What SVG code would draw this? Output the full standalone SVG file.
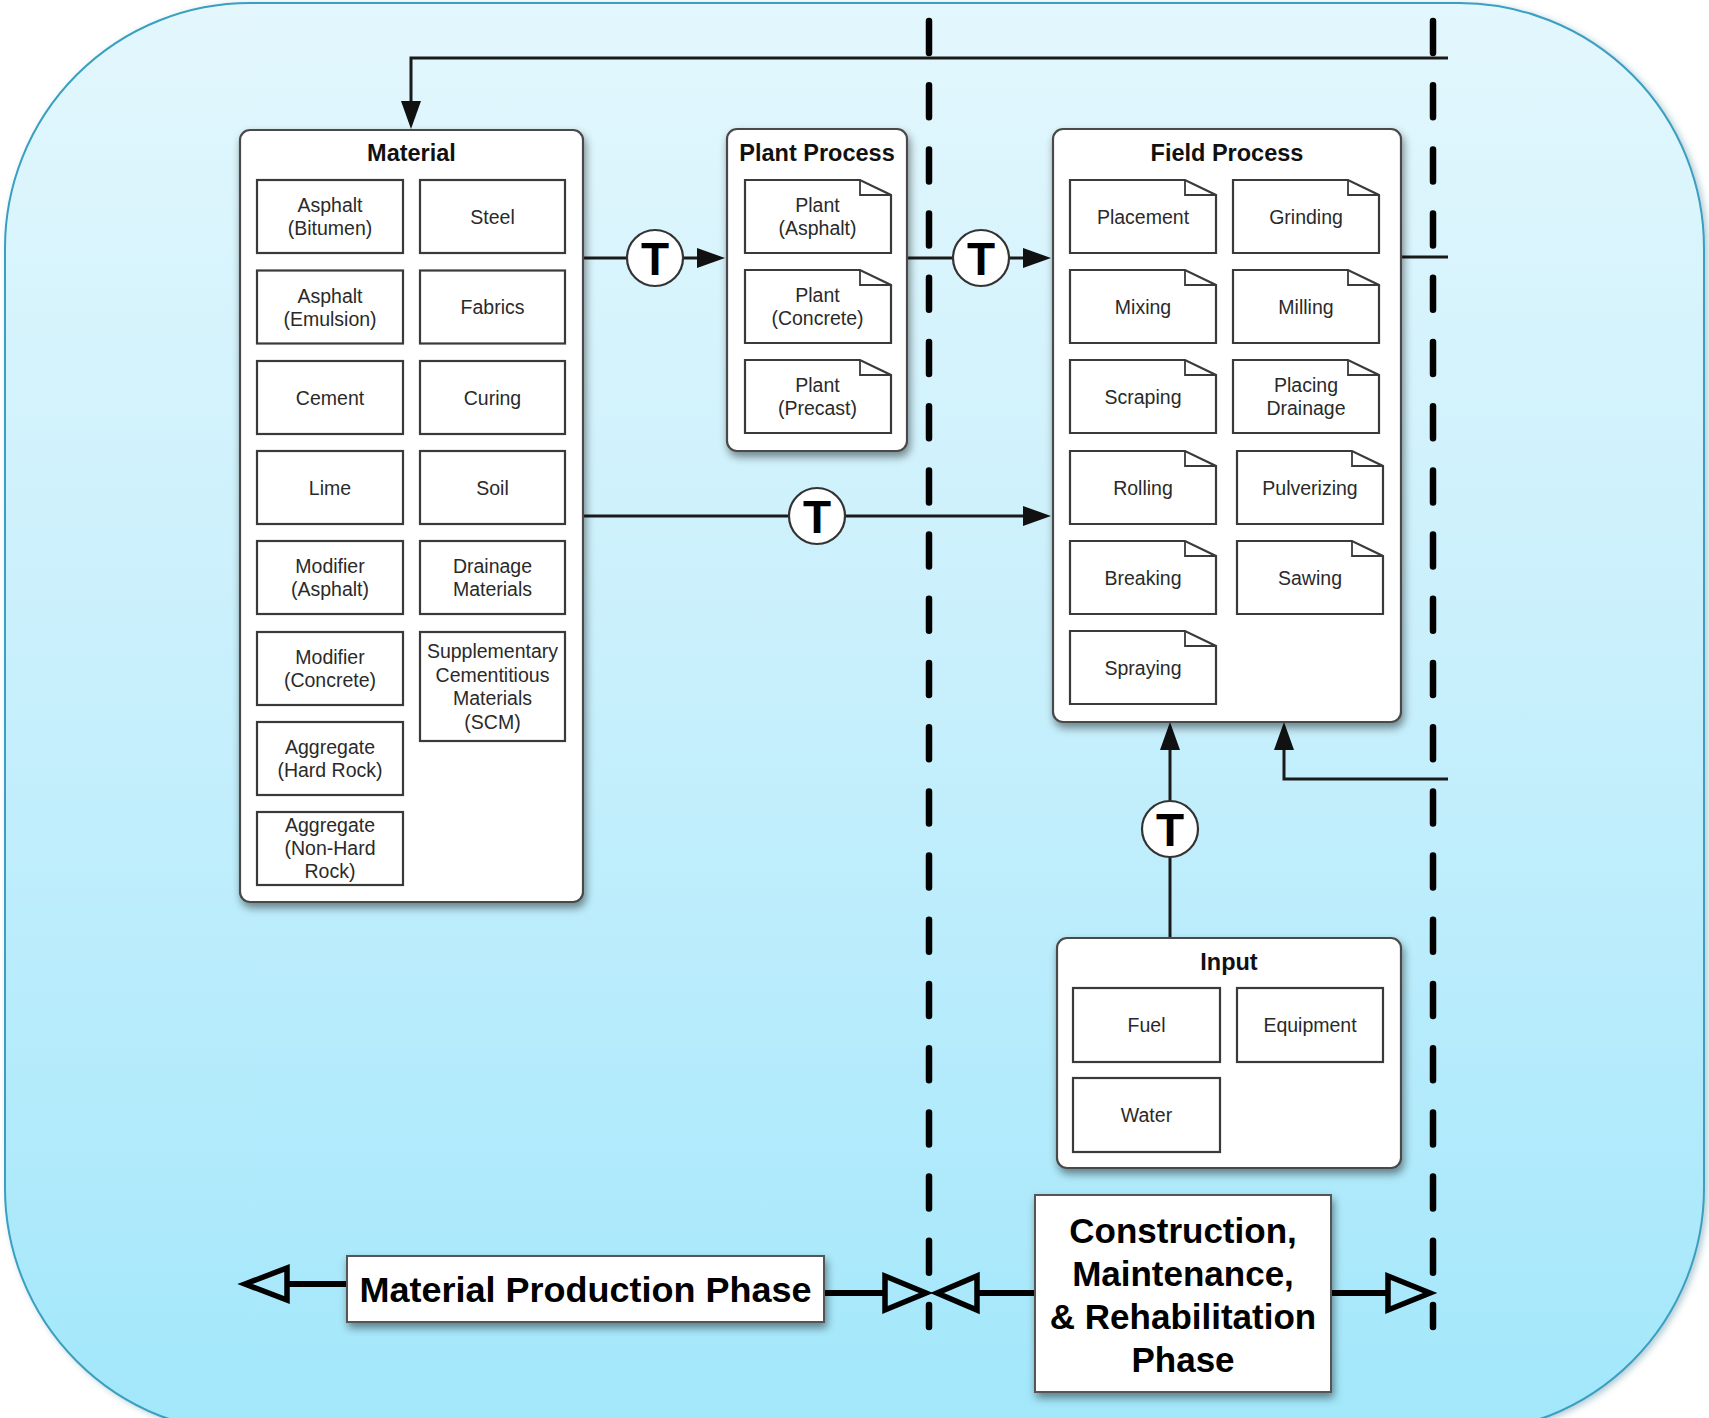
<svg xmlns="http://www.w3.org/2000/svg" xmlns:xlink="http://www.w3.org/1999/xlink" width="1709" height="1418" viewBox="0 0 1709 1418">
<defs>
  <linearGradient id="bg" x1="0" y1="0" x2="0" y2="1">
    <stop offset="0" stop-color="#e3f7fd"/>
    <stop offset="0.5" stop-color="#c6effc"/>
    <stop offset="1" stop-color="#a2e7fb"/>
  </linearGradient>
  <filter id="sh" x="-10%" y="-10%" width="130%" height="130%">
    <feDropShadow dx="2" dy="5" stdDeviation="4" flood-color="#000" flood-opacity="0.45"/>
  </filter>
  <filter id="osh" x="-5%" y="-5%" width="110%" height="110%">
    <feDropShadow dx="3" dy="2" stdDeviation="3" flood-color="#2a6f86" flood-opacity="0.35"/>
  </filter>
  <marker id="ah" viewBox="0 0 28 20" refX="18" refY="10" markerWidth="28" markerHeight="20" markerUnits="userSpaceOnUse" orient="auto">
    <path d="M0 0 L28 10 L0 20 Z" fill="#111"/>
  </marker>
  <g id="doc">
    <path d="M0 0 H115 L146 15 V73 H0 Z" fill="#fff" stroke="#3a3a3a" stroke-width="2.2"/>
    <path d="M115 0 V15 H146" fill="none" stroke="#3a3a3a" stroke-width="1.8"/>
  </g>
  <style>
    .panel { fill:#fff; stroke:#4a4a4a; stroke-width:2.2; filter:url(#sh); }
    .item { fill:#fff; stroke:#3a3a3a; stroke-width:2.2; }
    .title { font-family:"Liberation Sans", Arial, Helvetica, sans-serif; font-weight:bold; font-size:23.5px; fill:#111; text-anchor:middle; }
    .lbl { font-family:"Liberation Sans", Arial, Helvetica, sans-serif; font-size:19.5px; fill:#2a2a2a; text-anchor:middle; }
    .conn { fill:none; stroke:#1a1a1a; stroke-width:3; }
    .tc { fill:#fff; stroke:#333; stroke-width:2.2; }
    .tt { font-family:"Liberation Sans", Arial, Helvetica, sans-serif; font-weight:bold; font-size:46px; fill:#000; text-anchor:middle; }
    .dash { stroke:#000; stroke-width:6.5; stroke-linecap:round; stroke-dasharray:32 32.2; fill:none; }
    .phase { fill:#fff; stroke:#555; stroke-width:2; filter:url(#sh); }
    .ptxt { font-family:"Liberation Sans", Arial, Helvetica, sans-serif; font-weight:bold; font-size:35px; fill:#000; text-anchor:middle; }
    .parr { fill:none; stroke:#000; stroke-width:6; }
    .phead { fill:none; stroke:#000; stroke-width:5.5; stroke-linejoin:miter; }
  </style>
</defs>

<rect id="background" x="5" y="3" width="1699" height="1430" rx="245" ry="245" fill="url(#bg)" stroke="#3a9fc1" stroke-width="2" filter="url(#osh)"/>

<g id="phase-dividers">
  <line class="dash" x1="929" y1="21" x2="929" y2="1327"/>
  <line class="dash" x1="1433" y1="21" x2="1433" y2="1327"/>
</g>

<g id="connectors">
  <path class="conn" d="M1448 58 H411 V119" marker-end="url(#ah)"/>
  <path class="conn" d="M583 258 H715" marker-end="url(#ah)"/>
  <path class="conn" d="M907 258 H1041" marker-end="url(#ah)"/>
  <path class="conn" d="M583 516 H1041" marker-end="url(#ah)"/>
  <path class="conn" d="M1170 938 V732" marker-end="url(#ah)"/>
  <path class="conn" d="M1448 779 H1284 V732" marker-end="url(#ah)"/>
  <path class="conn" d="M1401 257 H1448"/>
  <g id="t1"><circle class="tc" cx="655" cy="258" r="28"/><text class="tt" x="655" y="274.5">T</text></g>
  <g id="t2"><circle class="tc" cx="981" cy="258" r="28"/><text class="tt" x="981" y="274.5">T</text></g>
  <g id="t3"><circle class="tc" cx="817" cy="516" r="28"/><text class="tt" x="817" y="532.5">T</text></g>
  <g id="t4"><circle class="tc" cx="1170" cy="829" r="28"/><text class="tt" x="1170" y="845.5">T</text></g>
</g>

<g id="material">
  <rect class="panel" x="240" y="130" width="343" height="772" rx="10"/>
  <text class="title" x="411.5" y="161">Material</text>
  <rect class="item" x="257" y="180" width="146" height="73"/>
  <text class="lbl" x="330" y="212">Asphalt</text><text class="lbl" x="330" y="235">(Bitumen)</text>
  <rect class="item" x="420" y="180" width="145" height="73"/>
  <text class="lbl" x="492.5" y="223.5">Steel</text>
  <rect class="item" x="257" y="270.5" width="146" height="73"/>
  <text class="lbl" x="330" y="302.5">Asphalt</text><text class="lbl" x="330" y="325.5">(Emulsion)</text>
  <rect class="item" x="420" y="270.5" width="145" height="73"/>
  <text class="lbl" x="492.5" y="314">Fabrics</text>
  <rect class="item" x="257" y="361" width="146" height="73"/>
  <text class="lbl" x="330" y="404.5">Cement</text>
  <rect class="item" x="420" y="361" width="145" height="73"/>
  <text class="lbl" x="492.5" y="404.5">Curing</text>
  <rect class="item" x="257" y="451" width="146" height="73"/>
  <text class="lbl" x="330" y="494.5">Lime</text>
  <rect class="item" x="420" y="451" width="145" height="73"/>
  <text class="lbl" x="492.5" y="494.5">Soil</text>
  <rect class="item" x="257" y="541" width="146" height="73"/>
  <text class="lbl" x="330" y="573">Modifier</text><text class="lbl" x="330" y="596">(Asphalt)</text>
  <rect class="item" x="420" y="541" width="145" height="73"/>
  <text class="lbl" x="492.5" y="573">Drainage</text><text class="lbl" x="492.5" y="596">Materials</text>
  <rect class="item" x="257" y="632" width="146" height="73"/>
  <text class="lbl" x="330" y="664">Modifier</text><text class="lbl" x="330" y="687">(Concrete)</text>
  <rect class="item" x="420" y="632" width="145" height="109"/>
  <text class="lbl" x="492.5" y="658">Supplementary</text><text class="lbl" x="492.5" y="681.5">Cementitious</text><text class="lbl" x="492.5" y="705">Materials</text><text class="lbl" x="492.5" y="728.5">(SCM)</text>
  <rect class="item" x="257" y="722" width="146" height="73"/>
  <text class="lbl" x="330" y="754">Aggregate</text><text class="lbl" x="330" y="777">(Hard Rock)</text>
  <rect class="item" x="257" y="812" width="146" height="73"/>
  <text class="lbl" x="330" y="832">Aggregate</text><text class="lbl" x="330" y="855">(Non-Hard</text><text class="lbl" x="330" y="878">Rock)</text>
</g>

<g id="plant-process">
  <rect class="panel" x="727" y="129" width="180" height="322" rx="10"/>
  <text class="title" x="817" y="161">Plant Process</text>
  <use xlink:href="#doc" x="745" y="180"/>
  <text class="lbl" x="817.5" y="212">Plant</text><text class="lbl" x="817.5" y="235">(Asphalt)</text>
  <use xlink:href="#doc" x="745" y="270"/>
  <text class="lbl" x="817.5" y="302">Plant</text><text class="lbl" x="817.5" y="325">(Concrete)</text>
  <use xlink:href="#doc" x="745" y="360"/>
  <text class="lbl" x="817.5" y="392">Plant</text><text class="lbl" x="817.5" y="415">(Precast)</text>
</g>

<g id="field-process">
  <rect class="panel" x="1053" y="129" width="348" height="593" rx="10"/>
  <text class="title" x="1227" y="161">Field Process</text>
  <use xlink:href="#doc" x="1070" y="180"/>
  <text class="lbl" x="1143" y="223.5">Placement</text>
  <use xlink:href="#doc" x="1233" y="180"/>
  <text class="lbl" x="1306" y="223.5">Grinding</text>
  <use xlink:href="#doc" x="1070" y="270"/>
  <text class="lbl" x="1143" y="313.5">Mixing</text>
  <use xlink:href="#doc" x="1233" y="270"/>
  <text class="lbl" x="1306" y="313.5">Milling</text>
  <use xlink:href="#doc" x="1070" y="360"/>
  <text class="lbl" x="1143" y="403.5">Scraping</text>
  <use xlink:href="#doc" x="1233" y="360"/>
  <text class="lbl" x="1306" y="392">Placing</text><text class="lbl" x="1306" y="415">Drainage</text>
  <use xlink:href="#doc" x="1070" y="451"/>
  <text class="lbl" x="1143" y="494.5">Rolling</text>
  <use xlink:href="#doc" x="1237" y="451"/>
  <text class="lbl" x="1310" y="494.5">Pulverizing</text>
  <use xlink:href="#doc" x="1070" y="541"/>
  <text class="lbl" x="1143" y="584.5">Breaking</text>
  <use xlink:href="#doc" x="1237" y="541"/>
  <text class="lbl" x="1310" y="584.5">Sawing</text>
  <use xlink:href="#doc" x="1070" y="631"/>
  <text class="lbl" x="1143" y="674.5">Spraying</text>
</g>

<g id="input">
  <rect class="panel" x="1057" y="938" width="344" height="230" rx="10"/>
  <text class="title" x="1229" y="970">Input</text>
  <rect class="item" x="1073" y="988" width="147" height="74"/>
  <text class="lbl" x="1146.5" y="1032">Fuel</text>
  <rect class="item" x="1237" y="988" width="146" height="74"/>
  <text class="lbl" x="1310" y="1032">Equipment</text>
  <rect class="item" x="1073" y="1078" width="147" height="74"/>
  <text class="lbl" x="1146.5" y="1122">Water</text>
</g>

<g id="material-production-phase">
  <path class="parr" d="M287 1284 H347"/>
  <polygon class="phead" points="245,1284 287,1268 287,1300"/>
  <path class="parr" d="M824 1293 H885"/>
  <polygon class="phead" points="885,1276 885,1310 926,1293"/>
  <rect class="phase" x="347" y="1256" width="477" height="66"/>
  <text class="ptxt" x="585.5" y="1301.5" textLength="452" lengthAdjust="spacingAndGlyphs">Material Production Phase</text>
</g>

<g id="construction-phase">
  <path class="parr" d="M977 1293 H1035"/>
  <polygon class="phead" points="937,1293 977,1276 977,1310"/>
  <path class="parr" d="M1331 1293 H1388"/>
  <polygon class="phead" points="1388,1276 1388,1310 1430,1293"/>
  <rect class="phase" x="1035" y="1195" width="296" height="197"/>
  <text class="ptxt" x="1183" y="1243">Construction,</text>
  <text class="ptxt" x="1183" y="1286">Maintenance,</text>
  <text class="ptxt" x="1183" y="1329">&amp; Rehabilitation</text>
  <text class="ptxt" x="1183" y="1372">Phase</text>
</g>
</svg>
